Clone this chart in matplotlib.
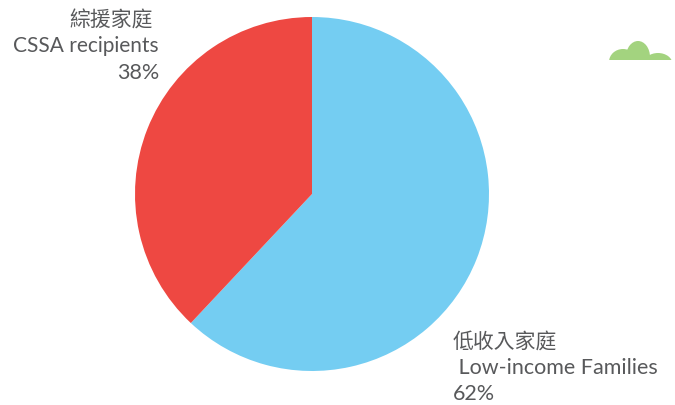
import matplotlib
matplotlib.use('Agg')
import matplotlib.pyplot as plt
from matplotlib.patches import Ellipse, Rectangle

W, H = 675, 405

names_zh = ['低收入家庭', '綜援家庭']
names_en = [' Low-income Families', 'CSSA recipients']
values = [62, 38]
colors = ['#74cdf2', '#ee4842']
text_color = '#58595b'
cloud_color = '#a3d37f'

fig = plt.figure(figsize=(W / 100, H / 100), dpi=100)

# pie axes, square around the circle
cx, cy, r = 312, 194, 177
ax = fig.add_axes([(cx - r) / W, 1 - (cy + r) / H, 2 * r / W, 2 * r / H])
ax.pie(values, colors=colors, startangle=90, counterclock=False, radius=1)
ax.set_xlim(-1, 1)
ax.set_ylim(-1, 1)

# overlay in pixel coordinates for the labels and the little cloud
top = fig.add_axes([0, 0, 1, 1])
top.set_xlim(0, W)
top.set_ylim(H, 0)
top.axis('off')
top.patch.set_alpha(0)

zh_font = dict(family=['Noto Sans CJK TC', 'DejaVu Sans'], fontsize=15, fontweight='light')
en_font = dict(family=['Lato', 'DejaVu Sans'], fontsize=15.5)

# left label, right aligned
top.text(153, 27, names_zh[1], ha='right', va='baseline', color=text_color, **zh_font)
top.text(159, 52, names_en[1], ha='right', va='baseline', color=text_color,
         family=['Lato', 'DejaVu Sans'], fontsize=15)
top.text(159, 79, f'{values[1]}%', ha='right', va='baseline', color=text_color, **en_font)

# right label, left aligned
top.text(453, 348, names_zh[0], ha='left', va='baseline', color=text_color, **zh_font)
top.text(453, 374, names_en[0], ha='left', va='baseline', color=text_color, **en_font)
top.text(453, 400, f'{values[0]}%', ha='left', va='baseline', color=text_color, **en_font)

# cloud made of three bumps cut off along a flat base
clip = Rectangle((600, 30), 80, 29.5, transform=top.transData)
for x0, y0, w, h in [(623, 62, 28, 26), (638, 57, 24, 32), (658, 64, 29, 22)]:
    bump = Ellipse((x0, y0), w, h, color=cloud_color, lw=0)
    top.add_patch(bump)
    bump.set_clip_path(clip)

fig.savefig('out.png', dpi=100)
